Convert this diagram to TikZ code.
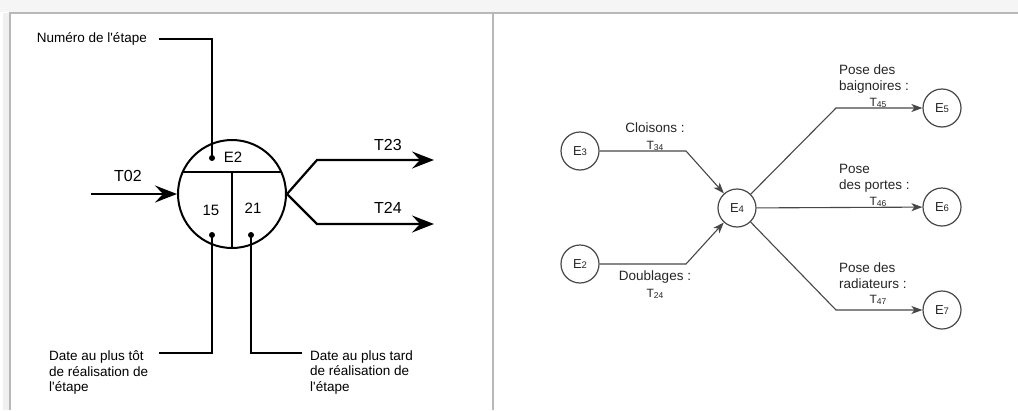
\documentclass[tikz,border=0pt]{standalone}
\usepackage{fontspec}
\setmainfont{Liberation Sans}
\usetikzlibrary{arrows.meta}
\newcommand{\ix}[1]{\raisebox{-0.8pt}{\fontsize{8.5}{9}\selectfont #1}}
\newcommand{\ex}[1]{\raisebox{-0.8pt}{\fontsize{9.5}{10}\selectfont #1}}
\begin{document}
\begin{tikzpicture}[x=1pt,y=-1pt,
  ann/.style={font=\fontsize{13.5}{15.5}\selectfont, inner sep=0pt, align=left},
  big/.style={font=\fontsize{16}{18}\selectfont, inner sep=0pt},
  cell/.style={font=\fontsize{15}{17}\selectfont, inner sep=0pt},
  dot/.style={circle, fill=black, minimum size=6pt, inner sep=0pt},
  lead/.style={line width=1.1pt},
  bigarrow/.style={line width=2.2pt, -{Stealth[length=22pt,width=17pt,inset=8pt]}},
  ev/.style={circle, draw=black!72, line width=1.2pt, minimum size=38pt, inner sep=0pt, font=\fontsize{13}{15}\selectfont, text=black!85},
  act/.style={draw=black!72, line width=1.1pt, -{Stealth[length=11pt,width=8pt,inset=3pt]}},
  lbl/.style={font=\fontsize{13.5}{16}\selectfont, inner sep=0pt, align=left, text=black!85},
  tl/.style={font=\fontsize{12}{13}\selectfont, inner sep=0pt, text=black!85},
  frame/.style={draw=black!28, line width=1.5pt}
]
\useasboundingbox (0,0) rectangle (1018,410);
\fill[white] (0,0) rectangle (1018,410);
% frame
\fill[black!4] (0,0) rectangle (1018,12);
\fill[black!6] (3,13) rectangle (10,410);
\draw[frame] (10,410) -- (10,13) -- (1018,13);
\draw[frame] (493,13) -- (493,410);

% ---------- left diagram ----------
\node[circle, draw, line width=2pt, minimum size=108pt, inner sep=0pt] (c) at (232,194) {};
\draw[line width=1.3pt] (182.7,172) -- (281.3,172);
\draw[line width=1.3pt] (232,172) -- (c.south);
\node[cell] (e2) at (233,157) {E2};
\node[cell] (v15) at (211,210) {15};
\node[cell] (v21) at (253,208) {21};
\node[dot] (d1) at (212,158) {};
\node[dot] (d2) at (212,235) {};
\node[dot] (d3) at (251,235) {};

\node[ann, anchor=east] (n1) at (147,39) {Numéro de l\textquotesingle étape};
\node[ann, anchor=north west] (n2) at (49,350.5) {Date au plus tôt\\de réalisation de\\l\textquotesingle étape};
\node[ann, anchor=north west] (n3) at (310,350.5) {Date au plus tard\\de réalisation de\\l\textquotesingle étape};
\coordinate (k1) at (159,39);
\coordinate (k2) at (159,353);
\coordinate (k3) at (302,353);
\draw[lead] (d1.center) |- (k1);
\draw[lead] (d2.center) |- (k2);
\draw[lead] (d3.center) |- (k3);

\coordinate (s02) at (91,194);
\coordinate (b23) at (317,160);
\coordinate (e23) at (434,160);
\coordinate (b24) at (317,224);
\coordinate (e24) at (434,224);
\draw[bigarrow] (s02) -- (c);
\draw[bigarrow] (c.east) -- (b23) -- (e23);
\draw[bigarrow] (c.east) -- (b24) -- (e24);
\node[big] (t02) at (128,176) {T02};
\node[big] (t23) at (388,145) {T23};
\node[big] (t24) at (388,208) {T24};

% ---------- right diagram ----------
\node[ev] (E3) at (580,151) {E\ex{3}};
\node[ev] (E2) at (580,264) {E\ex{2}};
\node[ev] (E4) at (737,208) {E\ex{4}};
\node[ev] (E5) at (942,108) {E\ex{5}};
\node[ev] (E6) at (942,207) {E\ex{6}};
\node[ev] (E7) at (942,310) {E\ex{7}};

\coordinate (q3) at (686,151);
\coordinate (q2) at (686,264);
\coordinate (q5) at (836,108);
\coordinate (q7) at (836,310);
\draw[act] (E3.east) -- (q3) -- (E4);
\draw[act] (E2.east) -- (q2) -- (E4);
\draw[act] (E4) -- (q5) -- (E5.west);
\draw[act] (E4) -- (E6);
\draw[act] (E4) -- (q7) -- (E7.west);

\node[lbl] (l34) at (655,128) {Cloisons :};
\node[tl] (t34) at (655,146) {T\ix{34}};
\node[lbl] (l24) at (655,277) {Doublages :};
\node[tl] (t24r) at (655,294) {T\ix{24}};
\node[lbl, anchor=north west] (l45) at (839,65) {Pose des\\baignoires :};
\node[tl] (t45) at (878,103) {T\ix{45}};
\node[lbl, anchor=north west] (l46) at (839,164) {Pose\\des portes :};
\node[tl] (t46) at (878,202) {T\ix{46}};
\node[lbl, anchor=north west] (l47) at (839,263) {Pose des\\radiateurs :};
\node[tl] (t47) at (878,300) {T\ix{47}};
\end{tikzpicture}
\end{document}
